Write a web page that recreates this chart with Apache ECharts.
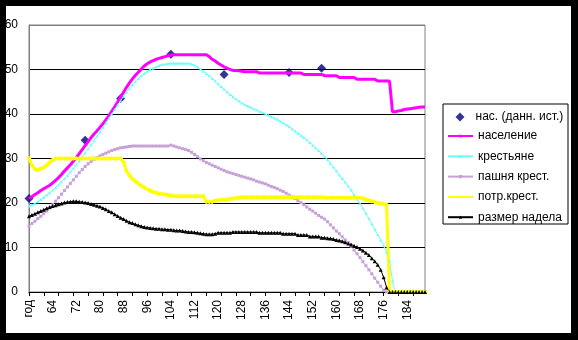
<!DOCTYPE html>
<html>
<head>
<meta charset="utf-8">
<script src="https://cdn.jsdelivr.net/npm/echarts@6/dist/echarts.min.js"></script>
<style>
html,body{margin:0;padding:0;background:#000;width:578px;height:340px;overflow:hidden;}
#c{position:absolute;left:6px;top:6px;width:565px;height:327px;background:#fff;}
</style>
</head>
<body>
<div id="c"></div>
<script>
// categories: first label "год", then years 57..190
const years = ['год'];
for (let y = 57; y <= 190; y++) years.push(String(y));

const yTicks = [0, 10, 20, 30, 40, 50, 60];

const histYears = ['год', '75', '87', '104', '122', '144', '155'];
const histValues = [21.0, 34.1, 43.5, 53.4, 48.9, 49.3, 50.3];

const population = [
21.0,21.4,21.9,22.3,22.8,23.2,23.6,24.0,24.5,25.1,
25.7,26.4,27.2,27.9,28.6,29.4,30.2,31.1,32.0,32.9,
33.8,34.7,35.5,36.2,37.0,37.8,38.7,39.6,40.6,41.6,
42.7,43.8,44.9,46.0,47.0,47.9,48.7,49.4,50.1,50.8,
51.3,51.7,52.0,52.3,52.5,52.7,52.9,53.1,53.2,53.3,
53.3,53.3,53.3,53.3,53.3,53.3,53.3,53.3,53.3,53.3,
53.3,52.9,52.3,51.9,51.4,51.0,50.6,50.3,50.0,49.8,
49.8,49.7,49.6,49.5,49.5,49.5,49.5,49.5,49.2,49.2,
49.2,49.2,49.2,49.2,49.2,49.2,49.2,49.2,49.2,49.2,
49.2,49.2,49.2,48.9,48.9,48.9,48.9,48.9,48.9,48.9,
48.6,48.6,48.6,48.6,48.6,48.2,48.2,48.2,48.2,48.2,
48.2,47.8,47.8,47.8,47.8,47.8,47.8,47.8,47.4,47.4,
47.4,47.4,47.4,40.5,40.5,40.7,40.8,41.0,41.1,41.2,
41.3,41.4,41.5,41.6,41.6
];

const peasants = [
19.3,19.6,19.9,20.3,20.8,21.3,21.8,22.3,22.9,23.5,
24.1,24.8,25.5,26.2,27.0,27.8,28.6,29.5,30.4,31.3,
32.2,33.1,34.0,35.0,36.0,37.0,38.0,39.0,40.0,41.0,
42.0,43.0,44.0,44.9,45.8,46.6,47.3,48.0,48.6,49.1,
49.6,50.0,50.3,50.6,50.9,51.1,51.2,51.3,51.4,51.4,
51.4,51.4,51.4,51.4,51.4,51.2,51.0,50.6,50.1,49.6,
49.1,48.6,48.0,47.4,46.8,46.2,45.6,45.0,44.4,43.9,
43.4,42.9,42.5,42.1,41.8,41.5,41.2,40.9,40.6,40.3,
40.0,39.7,39.4,39.1,38.8,38.4,38.0,37.6,37.2,36.7,
36.2,35.7,35.2,34.7,34.2,33.6,33.0,32.4,31.8,31.1,
30.4,29.7,28.9,28.1,27.2,26.3,25.5,24.7,23.8,22.9,
21.9,20.9,19.9,18.8,17.7,16.5,15.3,14.1,12.9,11.7,
10.4,9.0,7.0,2.5,0,0,0,0,0,0,
0,0,0,0,0
];

const arable = [
14.8,15.4,15.9,16.5,17.0,17.6,18.2,18.9,19.6,20.4,
21.2,22.0,22.8,23.6,24.4,25.2,26.0,26.8,27.5,28.2,
28.8,29.3,29.8,30.2,30.6,30.9,31.2,31.5,31.8,32.0,
32.2,32.4,32.5,32.6,32.7,32.8,32.8,32.8,32.8,32.8,
32.8,32.8,32.8,32.8,32.8,32.8,32.8,32.8,33.0,32.8,
32.6,32.4,32.2,32.0,31.8,31.4,30.9,30.4,29.9,29.5,
29.1,28.8,28.5,28.2,27.9,27.6,27.3,27.0,26.8,26.6,
26.4,26.2,26.0,25.8,25.6,25.4,25.2,24.9,24.7,24.5,
24.3,24.0,23.7,23.5,23.2,22.9,22.6,22.2,21.8,21.4,
21.0,20.5,20.1,19.6,19.1,18.6,18.2,17.7,17.2,16.8,
16.4,15.8,15.1,14.4,13.7,13.1,12.4,11.7,11.1,10.3,
9.4,8.6,7.7,6.8,5.9,5.0,4.1,3.1,2.2,1.3,
0.4,0,0,0,0,0,0,0,0,0,
0,0,0,0,0
];

const consumption = [
30.0,28.5,27.6,27.5,27.7,28.0,28.5,29.1,29.7,30.0,
30.0,30.0,30.0,30.0,30.0,30.0,30.0,30.0,30.0,30.0,
30.0,30.0,30.0,30.0,30.0,30.0,30.0,30.0,30.0,30.0,
30.0,30.0,29.2,27.2,26.2,25.4,24.9,24.4,23.9,23.5,
23.1,22.8,22.5,22.3,22.1,22.0,21.9,21.8,21.7,21.6,
21.5,21.5,21.5,21.5,21.5,21.5,21.5,21.5,21.5,21.5,
20.3,20.3,20.3,20.5,20.6,20.7,20.7,20.8,20.9,21.0,
21.1,21.2,21.3,21.3,21.3,21.3,21.3,21.3,21.3,21.3,
21.3,21.3,21.3,21.3,21.3,21.3,21.3,21.3,21.3,21.3,
21.3,21.3,21.3,21.3,21.3,21.3,21.3,21.3,21.3,21.3,
21.2,21.2,21.2,21.2,21.2,21.2,21.2,21.2,21.2,21.2,
21.2,21.2,21.2,21.0,20.8,20.6,20.4,20.2,20.0,19.9,
19.8,19.6,0,0,0,0,0,0,0,0,
0,0,0,0,0
];

const allotment = [
17.0,17.3,17.6,17.9,18.2,18.5,18.8,19.1,19.3,19.5,
19.7,19.9,20.1,20.2,20.3,20.4,20.4,20.3,20.2,20.1,
20.0,19.8,19.6,19.4,19.2,18.9,18.6,18.2,17.9,17.5,
17.1,16.7,16.4,16.0,15.7,15.5,15.2,15.0,14.8,14.6,
14.5,14.4,14.3,14.2,14.2,14.1,14.1,14.0,14.0,13.9,
13.8,13.8,13.7,13.6,13.5,13.5,13.4,13.3,13.2,13.1,
13.0,13.0,13.0,13.1,13.3,13.3,13.3,13.3,13.3,13.5,
13.5,13.5,13.5,13.5,13.5,13.5,13.5,13.5,13.3,13.3,
13.3,13.3,13.3,13.3,13.3,13.3,13.1,13.1,13.1,13.1,
13.1,12.8,12.8,12.8,12.8,12.5,12.5,12.5,12.5,12.2,
12.2,12.1,12.0,11.9,11.7,11.6,11.4,11.2,10.9,10.7,
10.4,10.1,9.7,9.3,8.8,8.3,7.6,6.9,6.1,5.0,
3.3,1.0,0,0,0,0,0,0,0,0,
0,0,0,0,0
];

const FONT = '"Liberation Sans", Arial, sans-serif';
const chart = echarts.init(document.getElementById('c'), null, {renderer: 'canvas'});

const gridColors = yTicks.map((t, i) => i === yTicks.length - 1 ? '#808080' : '#000000');
const legendText = {fontFamily: FONT, fontSize: 12, color: '#000', lineHeight: 12};

chart.setOption({
  animation: false,
  backgroundColor: '#ffffff',
  textStyle: {fontFamily: FONT, color: '#000'},
  grid: {left: 23, top: 19, width: 396, height: 267, show: true, borderColor: '#808080', borderWidth: 1, backgroundColor: 'transparent', outerBoundsMode: 'none'},
  graphic: [{
    type: 'rect', left: 436.5, top: 97.5, z: 1,
    shape: {width: 125, height: 120},
    style: {fill: '#fff', stroke: '#000', lineWidth: 1}
  }],
  legend: [{
    orient: 'vertical', left: 449.5, top: 105,
    itemWidth: 9, itemHeight: 9, itemGap: 8, padding: 0,
    textStyle: Object.assign({}, legendText, {padding: [0, 0, 0, 6]}),
    selectedMode: false, z: 5,
    data: ['нас. (данн. ист.)']
  }, {
    orient: 'vertical', left: 441, top: 124,
    itemWidth: 25, itemHeight: 4, itemGap: 8.3, padding: 0,
    textStyle: legendText, selectedMode: false, z: 5,
    data: ['население', 'крестьяне', 'пашня крест.', 'потр.крест.', 'размер надела']
  }],
  xAxis: {
    type: 'category', data: years, boundaryGap: false,
    axisLine: {lineStyle: {color: '#000', width: 1}},
    axisTick: {show: true, interval: 4, length: 4, lineStyle: {color: '#000'}},
    axisLabel: {interval: 7, rotate: 90, margin: 8, fontSize: 12, color: '#000', fontFamily: FONT},
    splitLine: {show: false}
  },
  yAxis: {
    type: 'value', min: 0, max: 60, interval: 10,
    axisLine: {show: true, lineStyle: {color: '#808080'}},
    axisTick: {show: false},
    axisLabel: {margin: 11, fontSize: 12, color: '#000', fontFamily: FONT},
    splitLine: {show: true, lineStyle: {color: gridColors, width: 1}}
  },
  series: [
    {name: 'нас. (данн. ист.)', type: 'scatter', symbol: 'diamond', symbolSize: 9,
     itemStyle: {color: '#000080'}, data: histYears.map((y, i) => [y, histValues[i]]), z: 2},
    {name: 'население', type: 'line', data: population, showSymbol: false, symbol: 'none',
     lineStyle: {color: '#ff00ff', width: 3}, itemStyle: {color: '#ff00ff'}, z: 3},
    {name: 'крестьяне', type: 'line', data: peasants, symbol: 'triangle', symbolSize: 3, showAllSymbol: true,
     lineStyle: {color: '#66ffff', width: 1}, itemStyle: {color: '#66ffff'}, z: 3},
    {name: 'пашня крест.', type: 'line', data: arable, symbol: 'rect', symbolSize: 3, showAllSymbol: true,
     lineStyle: {color: '#c8a0d8', width: 1}, itemStyle: {color: '#c8a0d8'}, z: 3},
    {name: 'потр.крест.', type: 'line', data: consumption, symbol: 'diamond', symbolSize: 5, showAllSymbol: true,
     lineStyle: {color: '#ffff00', width: 3}, itemStyle: {color: '#ffff00'}, z: 3},
    {name: 'размер надела', type: 'line', data: allotment, symbol: 'triangle', symbolSize: 4, showAllSymbol: true,
     lineStyle: {color: '#000000', width: 1}, itemStyle: {color: '#000000'}, z: 3}
  ]
});
</script>
</body>
</html>
